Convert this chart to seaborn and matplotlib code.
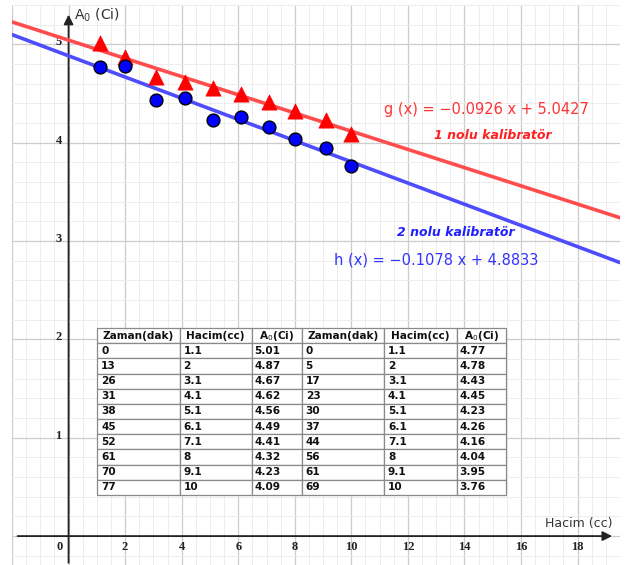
import numpy as np
import pandas as pd
import matplotlib
matplotlib.use("Agg")
import matplotlib.pyplot as plt
import seaborn as sns

# --- data -------------------------------------------------------------
zaman_1 = [0, 13, 26, 31, 38, 45, 52, 61, 70, 77]
hacim_1 = [1.1, 2, 3.1, 4.1, 5.1, 6.1, 7.1, 8, 9.1, 10]
a0_1 = [5.01, 4.87, 4.67, 4.62, 4.56, 4.49, 4.41, 4.32, 4.23, 4.09]

zaman_2 = [0, 5, 17, 23, 30, 37, 44, 56, 61, 69]
hacim_2 = [1.1, 2, 3.1, 4.1, 5.1, 6.1, 7.1, 8, 9.1, 10]
a0_2 = [4.77, 4.78, 4.43, 4.45, 4.23, 4.26, 4.16, 4.04, 3.95, 3.76]

# fitted lines: g(x) and h(x)
g_slope, g_intercept = -0.0926, 5.0427
h_slope, h_intercept = -0.1078, 4.8833

x_tick_values = [2, 4, 6, 8, 10, 12, 14, 16, 18]
y_tick_values = [1, 2, 3, 4, 5]

RED_LINE = "#ff4d4d"
BLUE_LINE = "#4d4dff"

sns.set_style("white")
plt.rcParams["font.family"] = ["DejaVu Sans"]

fig = plt.figure(figsize=(6.25, 5.65), dpi=100)
ax = fig.add_axes([12 / 625, 0, 608 / 625, 560 / 565])
ax.set_xlim(-1.90, 19.48)
ax.set_ylim(-0.294, 5.38)

# grid
ax.set_xticks(np.arange(-2, 20, 2))
ax.set_xticks(np.arange(-1.5, 20, 0.5), minor=True)
ax.set_yticks(np.arange(0, 6, 1))
ax.set_yticks(np.arange(-0.2, 5.5, 0.2), minor=True)
ax.grid(which="major", color="#cccccc", lw=0.9, zorder=0)
ax.grid(which="minor", color="#ededed", lw=0.7, zorder=0)
ax.tick_params(which="both", length=0, labelbottom=False, labelleft=False)
for s in ax.spines.values():
    s.set_visible(False)

# axes with arrows
ax.annotate("", xy=(19.32, 0), xytext=(-1.90, 0),
            arrowprops=dict(arrowstyle="-|>", color="#222222", lw=1.3,
                            mutation_scale=14), zorder=3)
ax.annotate("", xy=(0, 5.33), xytext=(0, -0.3),
            arrowprops=dict(arrowstyle="-|>", color="#222222", lw=1.3,
                            mutation_scale=14), zorder=3)

for v in x_tick_values:
    ax.text(v, -0.11, str(v), ha="center", va="center", fontsize=9,
            family="Liberation Serif", fontweight="bold", color="#222222")
ax.text(-0.32, -0.11, "0", ha="center", va="center", fontsize=9,
        family="Liberation Serif", fontweight="bold", color="#222222")
for v in y_tick_values:
    ax.text(-0.24, v + 0.02, str(v), ha="right", va="center", fontsize=9,
            family="Liberation Serif", fontweight="bold", color="#222222")

ax.text(0.2, 5.30, "A$_0$ (Ci)", fontsize=10, va="center", ha="left",
        color="#333333")
ax.text(16.84, 0.13, "Hacim (cc)", fontsize=9, va="center", ha="left",
        color="#333333")

# regression lines
ax.axline((0, g_intercept), slope=g_slope, color=RED_LINE, lw=2.6, zorder=4)
ax.axline((0, h_intercept), slope=h_slope, color=BLUE_LINE, lw=2.6, zorder=4)

# points
df1 = pd.DataFrame({"hacim": hacim_1, "a0": a0_1})
df2 = pd.DataFrame({"hacim": hacim_2, "a0": a0_2})
sns.scatterplot(data=df1, x="hacim", y="a0", ax=ax, marker="^", s=120,
                color="#ff0000", edgecolor="#ff0000", linewidth=0.5, zorder=5)
sns.scatterplot(data=df2, x="hacim", y="a0", ax=ax, marker="o", s=85,
                color="#0000ff", edgecolor="black", linewidth=1.0, zorder=5)
ax.set_xlabel("")
ax.set_ylabel("")

# equations and labels
ax.text(11.14, 4.34, "g (x) = \u22120.0926 x + 5.0427", color="#ff3333",
        fontsize=10.5, va="center", ha="left", zorder=6)
ax.text(12.94, 4.07, "1 nolu kalibratör", color="#ff2020", fontsize=9,
        fontweight="bold", style="italic", va="center", ha="left", zorder=6)
ax.text(11.63, 3.09, "2 nolu kalibratör", color="#2020ff", fontsize=9,
        fontweight="bold", style="italic", va="center", ha="left", zorder=6)
ax.text(9.38, 2.81, "h (x) = \u22120.1078 x + 4.8833", color="#3333ff",
        fontsize=10.5, va="center", ha="left", zorder=6)

# table
col_labels = ["Zaman(dak)", "Hacim(cc)", "A$_0$(Ci)",
              "Zaman(dak)", "Hacim(cc)", "A$_0$(Ci)"]
def fmt(v):
    return f"{v:g}"
rows = [[fmt(a), fmt(b), f"{c:.2f}", fmt(d), fmt(e), f"{f:.2f}"]
        for a, b, c, d, e, f in zip(zaman_1, hacim_1, a0_1,
                                    zaman_2, hacim_2, a0_2)]
col_w = np.array([83, 72, 50, 83, 73, 49], dtype=float)
col_w = col_w / col_w.sum()
tbl = ax.table(cellText=rows, colLabels=col_labels, cellLoc="left",
               colWidths=list(col_w),
               bbox=[(97 - 12) / 608, (565 - 495) / 560, 409 / 608, 167 / 560],
               zorder=7)
tbl.auto_set_font_size(False)
for (r, c), cell in tbl.get_celld().items():
    cell.set_edgecolor("#8a8a8a")
    cell.set_linewidth(0.9)
    cell.set_facecolor("white")
    cell.PAD = 0.05
    cell.get_text().set_fontsize(7.6)
    cell.get_text().set_fontweight("bold")
    cell.get_text().set_color("#111111")

fig.savefig("out.png", dpi=100)
